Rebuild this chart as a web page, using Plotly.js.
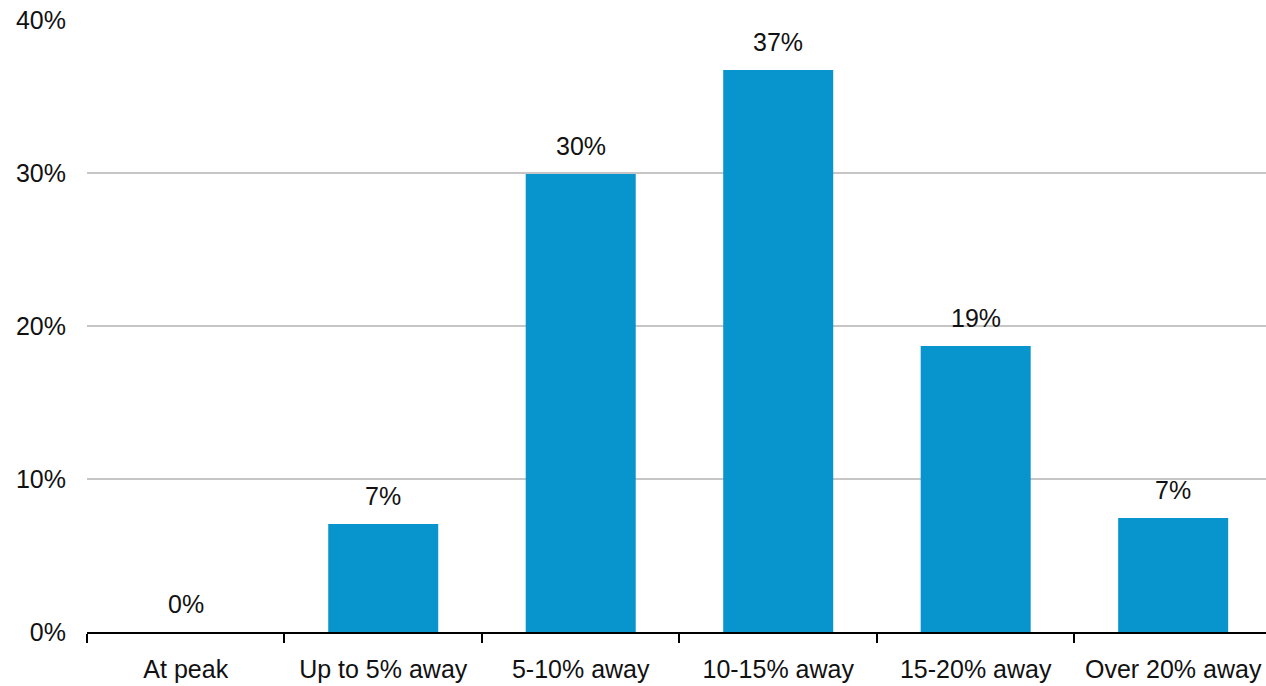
<!DOCTYPE html>
<html>
<head>
<meta charset="utf-8">
<script src="https://cdn.plot.ly/plotly-3.0.1.min.js"></script>
<style>html,body{margin:0;padding:0;background:#fff;}#chart{width:1266px;height:686px;}</style>
</head>
<body>
<div id="chart"></div>
<script>
var categories = ["At peak", "Up to 5% away", "5-10% away", "10-15% away", "15-20% away", "Over 20% away"];
var values = [0, 7.06, 29.93, 36.73, 18.69, 7.45];
var labels = ["0%", "7%", "30%", "37%", "19%", "7%"];
var yTickVals = [0, 10, 20, 30, 40];
var yTickText = ["0%", "10%", "20%", "30%", "40%"];

var font = {family: "Liberation Sans, Arial, sans-serif", size: 25, color: "#111"};

var annotations = categories.map(function (c, i) {
  return {
    x: c, y: values[i], xref: "x", yref: "y",
    text: labels[i], showarrow: false,
    xanchor: "center", yanchor: "middle", yshift: 28,
    font: font
  };
});

Plotly.newPlot("chart", [{
  type: "bar",
  x: categories,
  y: values,
  marker: {color: "#0894cc"},
  hoverinfo: "skip"
}], {
  width: 1266, height: 686,
  margin: {l: 87, r: 0, t: 20, b: 54},
  paper_bgcolor: "#fff", plot_bgcolor: "#fff",
  font: font,
  bargap: 0.443,
  showlegend: false,
  annotations: annotations,
  xaxis: {
    type: "category",
    range: [-0.5, 5.47],
    tickson: "boundaries",
    ticks: "outside", ticklen: 9, tickwidth: 2, tickcolor: "#000",
    showline: true, linecolor: "#000", linewidth: 2,
    showgrid: false, zeroline: false,
    ticklabelstandoff: 14,
    tickfont: font,
    fixedrange: true
  },
  yaxis: {
    range: [0, 40],
    tickvals: yTickVals, ticktext: yTickText,
    showgrid: true, gridcolor: "#c6c6c6", gridwidth: 2,
    zeroline: false, showline: false, ticks: "",
    ticklabelstandoff: 20,
    tickfont: font,
    fixedrange: true
  }
}, {displayModeBar: false, staticPlot: true});
</script>
</body>
</html>
